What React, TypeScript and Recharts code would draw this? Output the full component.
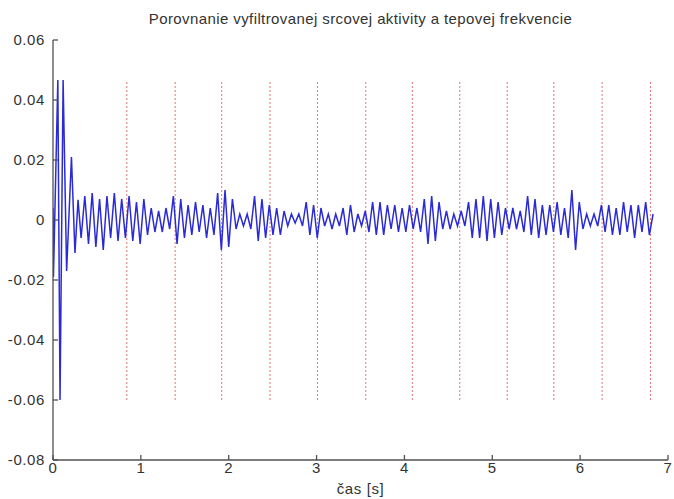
import { LineChart, Line, XAxis, YAxis, ReferenceLine } from "recharts";

// initial transient (irregular sample times)
const transientTimes = [0, 0.005, 0.055, 0.08, 0.115, 0.155, 0.21, 0.25, 0.285];
const transientValues = [0.004, -0.019, 0.0467, -0.06, 0.0467, -0.017, 0.021, -0.011, 0.0067];

// steady part, one value per half-oscillation
const steadyStart = 0.32;
const steadyStep = 0.042;
const steadyValues = [
  -0.006, 0.008, -0.008, 0.009, -0.009, 0.007, -0.01, 0.008, -0.006, 0.009,
  -0.007, 0.007, -0.006, 0.008, -0.007, 0.006, -0.008, 0.007, -0.005, 0.004,
  -0.004, 0.003, -0.004, 0.004, -0.003, 0.008, -0.008, 0.007, -0.006, 0.005,
  -0.005, 0.006, -0.004, 0.005, -0.006, 0.004, -0.005, 0.009, -0.01, 0.01,
  -0.009, 0.007, -0.003, 0.002, -0.002, 0.002, -0.003, 0.008, -0.007, 0.007,
  -0.006, 0.005, -0.005, 0.004, -0.005, 0.003, -0.002, 0.002, -0.001, 0.002,
  -0.002, 0.006, -0.005, 0.005, -0.006, 0.004, -0.002, 0.002, -0.003, 0.002,
  -0.002, 0.004, -0.005, 0.005, -0.004, 0.002, -0.002, 0.003, -0.004, 0.006,
  -0.005, 0.006, -0.005, 0.005, -0.003, 0.005, -0.004, 0.004, -0.004, 0.005,
  -0.003, 0.004, -0.004, 0.007, -0.008, 0.008, -0.007, 0.006, -0.003, 0.003,
  -0.003, 0.002, -0.002, 0.003, -0.002, 0.006, -0.006, 0.007, -0.006, 0.008,
  -0.007, 0.007, -0.006, 0.006, -0.005, 0.004, -0.003, 0.004, -0.003, 0.003,
  -0.004, 0.008, -0.005, 0.007, -0.006, 0.005, -0.005, 0.005, -0.004, 0.006,
  -0.005, 0.004, -0.006, 0.01, -0.01, 0.006, -0.003, 0.002, -0.002, 0.002,
  -0.002, 0.005, -0.004, 0.005, -0.005, 0.004, -0.005, 0.006, -0.004, 0.005,
  -0.006, 0.005, -0.004, 0.006, -0.005, 0.002,
];

// heart beat markers (pulse)
const beatTimes = [0.84, 1.39, 1.92, 2.47, 3.01, 3.56, 4.09, 4.63, 5.17, 5.7, 6.25, 6.8];
const beatLow = -0.06;
const beatHigh = 0.0465;

const xTicks = [0, 1, 2, 3, 4, 5, 6, 7];
const yTicks = [-0.08, -0.06, -0.04, -0.02, 0, 0.02, 0.04, 0.06];

const data = [
  ...transientTimes.map((t, i) => ({ t, v: transientValues[i] })),
  ...steadyValues.map((v, i) => ({ t: steadyStart + i * steadyStep, v })),
];

const font = "'Liberation Sans', Arial, sans-serif";
const axisColor = "#505050";
const tickStyle = { fontSize: 15, fill: "#333", fontFamily: font, letterSpacing: 0.6 };

export default function App() {
  return (
    <div style={{ position: "absolute", left: 0, top: 0, width: 674, height: 499, background: "#fff" }}>
      <div
        style={{
          position: "absolute",
          top: 10,
          left: 53,
          width: 615,
          textAlign: "center",
          fontFamily: font,
          fontSize: 15,
          letterSpacing: 0.4,
          color: "#333",
        }}
      >
        Porovnanie vyfiltrovanej srcovej aktivity a tepovej frekvencie
      </div>
      <LineChart
        width={674}
        height={499}
        data={data}
        margin={{ top: 40, right: 6, bottom: 0, left: 0 }}
      >
        <XAxis
          type="number"
          dataKey="t"
          domain={[0, 7]}
          ticks={xTicks}
          allowDataOverflow
          height={39}
          stroke={axisColor}
          strokeWidth={1.3}
          tickSize={-5}
          tickMargin={7}
          tick={tickStyle}
        />
        <XAxis
          xAxisId="top"
          orientation="top"
          type="number"
          dataKey="t"
          domain={[0, 7]}
          ticks={xTicks}
          height={0}
          stroke={axisColor}
          strokeWidth={1.3}
          tickSize={-5}
          tickFormatter={() => ""}
        />
        <YAxis
          type="number"
          domain={[-0.08, 0.06]}
          ticks={yTicks}
          allowDataOverflow
          width={53}
          stroke={axisColor}
          strokeWidth={1.3}
          tickSize={-5}
          tickMargin={13}
          tick={tickStyle}
        />
        <YAxis
          yAxisId="right"
          orientation="right"
          type="number"
          domain={[-0.08, 0.06]}
          ticks={yTicks}
          width={0}
          stroke={axisColor}
          strokeWidth={1.3}
          tickSize={-5}
          tickFormatter={() => ""}
        />
        {beatTimes.map((bt) => (
          <ReferenceLine
            key={bt}
            segment={[
              { x: bt, y: beatLow },
              { x: bt, y: beatHigh },
            ]}
            stroke="#d9534f"
            strokeWidth={1}
            strokeDasharray="2 2"
            strokeOpacity={0.8}
          />
        ))}
        <Line
          type="linear"
          dataKey="v"
          stroke="#2b2bd6"
          strokeWidth={1.5}
          dot={false}
          isAnimationActive={false}
        />
      </LineChart>
      <div
        style={{
          position: "absolute",
          top: 480,
          left: 53,
          width: 615,
          textAlign: "center",
          fontFamily: font,
          fontSize: 15,
          letterSpacing: 0.6,
          color: "#333",
        }}
      >
        čas [s]
      </div>
    </div>
  );
}
